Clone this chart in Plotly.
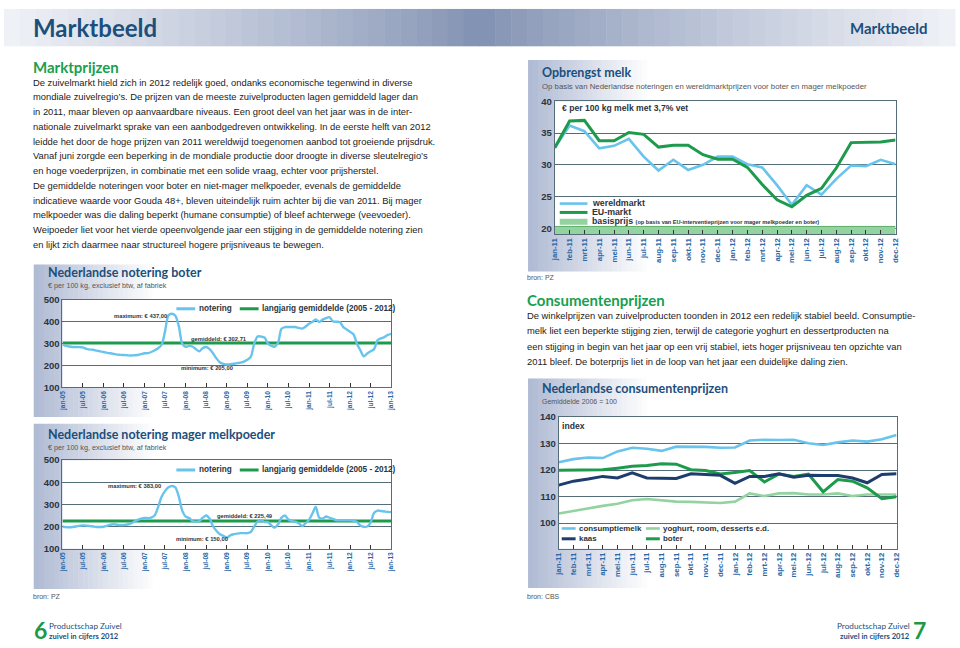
import plotly.graph_objects as go
import pandas as pd

W, H = 960, 648

# ------------------------------------------------------------------ data
maanden_1112 = ["jan-11", "feb-11", "mrt-11", "apr-11", "mei-11", "jun-11",
                "jul-11", "aug-11", "sep-11", "okt-11", "nov-11", "dec-11",
                "jan-12", "feb-12", "mrt-12", "apr-12", "mei-12", "jun-12",
                "jul-12", "aug-12", "sep-12", "okt-12", "nov-12", "dec-12"]

# Opbrengst melk (euro per 100 kg melk, 3,7% vet)
wereldmarkt = [32.7, 36.2, 35.3, 32.6, 33.0, 34.1, 31.3, 29.1, 30.8, 29.2, 30.0, 31.3,
               31.3, 30.1, 29.6, 26.8, 23.7, 26.8, 25.3, 27.8, 29.9, 29.8, 30.8, 30.1]
eu_markt = [32.7, 36.9, 37.0, 33.8, 33.8, 35.1, 34.8, 32.8, 33.1, 33.1, 31.6, 30.9,
            30.9, 29.6, 26.9, 24.5, 23.4, 25.2, 26.3, 29.5, 33.5, 33.5, 33.6, 33.9]
basisprijs = [20.3, 20.3, 20.3, 20.3, 20.3, 20.3, 20.3, 20.3, 20.3, 20.3, 20.3, 20.3,
              20.3, 20.3, 20.3, 20.3, 20.3, 20.3, 20.3, 20.3, 20.3, 20.3, 20.3, 20.3]

# Nederlandse notering boter / mager melkpoeder (euro per 100 kg), jan-05 .. jan-13
notering_maanden = pd.date_range("2005-01-01", "2013-01-01", freq="MS")
boter_notering = [296, 290, 287, 285, 285, 284, 283, 276, 273, 272, 268, 265,
                  262, 258, 256, 253, 250, 249, 248, 247, 246, 247, 248, 252,
                  256, 257, 262, 270, 279, 295, 355, 430, 437, 428, 380, 300,
                  286, 290, 287, 275, 265, 280, 285, 275, 255, 232, 214, 208,
                  205, 206, 208, 211, 213, 218, 226, 240, 300, 333, 332, 328,
                  300, 290, 286, 305, 368, 376, 376, 376, 376, 372, 369, 378,
                  391, 400, 411, 399, 410, 417, 421, 402, 400, 399, 376, 365,
                  354, 342, 300, 270, 242, 255, 265, 275, 316, 324, 330, 340,
                  345]
boter_gemiddeld = 302.71
melkpoeder_notering = [200, 197, 197, 198, 200, 203, 205, 204, 202, 200, 198, 198,
                       199, 203, 208, 210, 208, 207, 207, 209, 214, 222, 230, 236,
                       239, 238, 240, 251, 288, 335, 360, 377, 383, 377, 335, 272,
                       245, 238, 225, 222, 225, 240, 250, 235, 200, 180, 165, 158,
                       150, 160, 165, 168, 170, 170, 170, 175, 200, 222, 228, 220,
                       220, 205, 195, 210, 240, 250, 232, 225, 222, 215, 202, 215,
                       230, 260, 288, 240, 235, 245, 240, 235, 228, 228, 228, 228,
                       228, 226, 220, 205, 199, 200, 218, 262, 272, 270, 268, 266,
                       265]
melkpoeder_gemiddeld = 225.49
halfjaar_datums = ["2005-01-01", "2005-07-01", "2006-01-01", "2006-07-01", "2007-01-01",
                   "2007-07-01", "2008-01-01", "2008-07-01", "2009-01-01", "2009-07-01",
                   "2010-01-01", "2010-07-01", "2011-01-01", "2011-07-01", "2012-01-01",
                   "2012-07-01", "2013-01-01"]
halfjaar_labels = ["jan-05", "jul-05", "jan-06", "jul-06", "jan-07", "jul-07", "jan-08",
                   "jul-08", "jan-09", "jul-09", "jan-10", "jul-10", "jan-11", "jul-11",
                   "jan-12", "jul-12", "jan-13"]

# Nederlandse consumentenprijzen (gemiddelde 2006 = 100)
consumptiemelk = [122.9, 124.1, 124.7, 124.5, 127.0, 128.4, 128.0, 127.2, 128.8, 128.8, 128.7, 128.4,
                  128.5, 131.1, 131.4, 131.3, 131.4, 130.1, 129.4, 130.4, 131.1, 130.7, 131.6, 133.2]
yoghurt = [103.6, 104.6, 105.5, 106.5, 107.3, 108.6, 109.1, 108.7, 108.1, 108.0, 107.8, 107.6,
           108.1, 111.2, 110.2, 111.2, 111.3, 110.8, 110.8, 111.2, 110.2, 110.8, 110.8, 110.8]
kaas = [114.3, 115.8, 116.6, 117.6, 117.0, 118.9, 117.0, 117.0, 116.8, 118.6, 118.3, 118.0,
        115.0, 117.6, 117.6, 118.6, 117.3, 118.0, 117.9, 117.9, 117.0, 115.2, 118.3, 118.6]
boter_index = [119.9, 119.9, 120.1, 120.1, 120.7, 121.4, 121.7, 122.4, 122.2, 120.1, 119.8, 118.5,
               119.1, 119.8, 115.5, 118.5, 117.6, 118.5, 111.8, 116.4, 115.8, 113.3, 109.2, 109.9]

# ------------------------------------------------------------------ styling
BODY = "Liberation Sans"
HEAD = "Lato"
NAVY = "#1b4f7c"
GREEN_T = "#17a04f"
AXLINE = "#556d78"
TICKBLUE = "#2a68a8"
LABDARK = "#2b3440"
C_LBLUE = "#68c4ec"
C_GREEN = "#1e9a4c"
C_LGREEN = "#93d3a0"
C_NAVY = "#1d3d6e"


def px(x):
    return x / W


def py(y):
    return 1 - y / H


shapes = []
ann = []


def rect(x0, y0, x1, y1, color, layer="below"):
    shapes.append(dict(type="rect", xref="paper", yref="paper", x0=px(x0), x1=px(x1),
                       y0=py(y1), y1=py(y0), fillcolor=color, line=dict(width=0), layer=layer))


def seg(x0, x1, y, color, width):
    shapes.append(dict(type="line", xref="paper", yref="paper", x0=px(x0), x1=px(x1),
                       y0=py(y), y1=py(y), line=dict(color=color, width=width), layer="above"))


def txt(x, y, s, size, color="#222222", family=BODY, anchor="left", bold=False):
    ann.append(dict(x=px(x), y=py(y), xref="paper", yref="paper",
                    text=f"<b>{s}</b>" if bold else s, showarrow=False,
                    xanchor=anchor, yanchor="middle",
                    font=dict(size=size, color=color, family=family)))


def mix(c0, c1, t):
    return "rgb(%d,%d,%d)" % tuple(round(a + (b - a) * t) for a, b in zip(c0, c1))


# header band gradient (light at edges, dark blue-grey in centre)
edge = (240, 242, 247)
mid = (128, 144, 178)
n = 60
for i in range(n):
    x0 = i * W / n
    cx = x0 + W / n / 2
    t = abs(cx - W / 2) / (W / 2)
    rect(x0, 3, x0 + W / n + 0.5, 41, mix(mid, edge, t ** 0.85))


# panel gradients (blue-grey at left edge fading into white)
def panel(x0, y0, y1, width=125):
    c0, c1 = (176, 187, 212), (255, 255, 255)
    steps = 25
    for i in range(steps):
        t = i / (steps - 1)
        rect(x0 + i * width / steps, y0, x0 + (i + 1) * width / steps + 0.5, y1, mix(c0, c1, t))


panel(529, 55, 270)
panel(30, 263, 418)
panel(30, 425, 593)
panel(529, 379, 592)

# white plot areas
PLOTS = {
    "melk": (556, 97, 900, 232),
    "boter": (59, 299, 391, 388),
    "mmp": (59, 462, 391, 552),
    "cons": (560, 418, 901, 552),
}
for (a, b, c, d) in PLOTS.values():
    rect(a, b, c, d, "white")

fig = go.Figure()

# ---- Opbrengst melk
fig.add_trace(go.Scatter(x=maanden_1112, y=basisprijs, mode="lines", fill="tozeroy",
                         line=dict(color="#5fae6d", width=1), fillcolor=C_LGREEN,
                         xaxis="x", yaxis="y", name="basisprijs"))
fig.add_trace(go.Scatter(x=maanden_1112, y=wereldmarkt, mode="lines",
                         line=dict(color=C_LBLUE, width=2.6), xaxis="x", yaxis="y", name="wereldmarkt"))
fig.add_trace(go.Scatter(x=maanden_1112, y=eu_markt, mode="lines",
                         line=dict(color=C_GREEN, width=3), xaxis="x", yaxis="y", name="EU-markt"))

# ---- boter
fig.add_trace(go.Scatter(x=[notering_maanden[0], notering_maanden[-1]], y=[boter_gemiddeld, boter_gemiddeld],
                         mode="lines", line=dict(color=C_GREEN, width=3), xaxis="x2", yaxis="y2"))
fig.add_trace(go.Scatter(x=notering_maanden, y=boter_notering, mode="lines",
                         line=dict(color=C_LBLUE, width=2.4, shape="spline", smoothing=0.8),
                         xaxis="x2", yaxis="y2"))

# ---- mager melkpoeder
fig.add_trace(go.Scatter(x=[notering_maanden[0], notering_maanden[-1]],
                         y=[melkpoeder_gemiddeld, melkpoeder_gemiddeld],
                         mode="lines", line=dict(color=C_GREEN, width=3), xaxis="x3", yaxis="y3"))
fig.add_trace(go.Scatter(x=notering_maanden, y=melkpoeder_notering, mode="lines",
                         line=dict(color=C_LBLUE, width=2.4, shape="spline", smoothing=0.8),
                         xaxis="x3", yaxis="y3"))

# ---- consumentenprijzen
fig.add_trace(go.Scatter(x=maanden_1112, y=yoghurt, mode="lines",
                         line=dict(color=C_LGREEN, width=2.6), xaxis="x4", yaxis="y4"))
fig.add_trace(go.Scatter(x=maanden_1112, y=consumptiemelk, mode="lines",
                         line=dict(color=C_LBLUE, width=2.6), xaxis="x4", yaxis="y4"))
fig.add_trace(go.Scatter(x=maanden_1112, y=boter_index, mode="lines",
                         line=dict(color=C_GREEN, width=3), xaxis="x4", yaxis="y4"))
fig.add_trace(go.Scatter(x=maanden_1112, y=kaas, mode="lines",
                         line=dict(color=C_NAVY, width=3), xaxis="x4", yaxis="y4"))


def xdom(key):
    a, b, c, d = PLOTS[key]
    return [px(a), px(c)]


def ydom(key):
    a, b, c, d = PLOTS[key]
    return [py(d), py(b)]


def xax(key, anchor, size, **kw):
    d = dict(domain=xdom(key), anchor=anchor, showline=True, mirror=True, linecolor=AXLINE,
             linewidth=1, showgrid=False, zeroline=False, ticks="inside", ticklen=4,
             tickcolor="#333333", tickangle=-90,
             tickfont=dict(family=BODY, size=size, color=TICKBLUE, weight="bold"))
    d.update(kw)
    return d


def yax(key, anchor, rng, tickvals, size=9.5):
    return dict(domain=ydom(key), anchor=anchor, range=rng, tickvals=tickvals,
                showline=True, mirror=True, linecolor=AXLINE, linewidth=1,
                showgrid=True, gridcolor=AXLINE, gridwidth=1, zeroline=False, ticks="",
                tickfont=dict(family=BODY, size=size, color=LABDARK, weight="bold"))


layout_axes = dict(
    xaxis=xax("melk", "y", 7.8, type="category", range=[0, 23]),
    yaxis=yax("melk", "x", [19.1, 40], [20, 25, 30, 35, 40]),
    xaxis2=xax("boter", "y2", 6.6, type="date", range=["2005-01-01", "2013-01-01"],
               tickvals=halfjaar_datums, ticktext=halfjaar_labels),
    yaxis2=yax("boter", "x2", [100, 500], [100, 200, 300, 400, 500]),
    xaxis3=xax("mmp", "y3", 6.6, type="date", range=["2005-01-01", "2013-01-01"],
               tickvals=halfjaar_datums, ticktext=halfjaar_labels),
    yaxis3=yax("mmp", "x3", [100, 500], [100, 200, 300, 400, 500]),
    xaxis4=xax("cons", "y4", 7.8, type="category", range=[0, 23]),
    yaxis4=yax("cons", "x4", [90.4, 140], [100, 110, 120, 130, 140]),
)

# ------------------------------------------------------------------ texts
txt(27, 22, "Marktbeeld", 24, NAVY, HEAD, bold=True)
txt(935, 22, "Marktbeeld", 15, NAVY, HEAD, anchor="right", bold=True)

txt(27, 62, "Marktprijzen", 15, GREEN_T, HEAD, bold=True)
left_lines = [
    "De zuivelmarkt hield zich in 2012 redelijk goed, ondanks economische tegenwind in diverse",
    "mondiale zuivelregio’s. De prijzen van de meeste zuivelproducten lagen gemiddeld lager dan",
    "in 2011, maar bleven op aanvaardbare niveaus. Een groot deel van het jaar was in de inter-",
    "nationale zuivelmarkt sprake van een aanbodgedreven ontwikkeling. In de eerste helft van 2012",
    "leidde het door de hoge prijzen van 2011 wereldwijd toegenomen aanbod tot groeiende prijsdruk.",
    "Vanaf juni zorgde een beperking in de mondiale productie door droogte in diverse sleutelregio’s",
    "en hoge voederprijzen, in combinatie met een solide vraag, echter voor prijsherstel.",
    "De gemiddelde noteringen voor boter en niet-mager melkpoeder, evenals de gemiddelde",
    "indicatieve waarde voor Gouda 48+, bleven uiteindelijk ruim achter bij die van 2011. Bij mager",
    "melkpoeder was die daling beperkt (humane consumptie) of bleef achterwege (veevoeder).",
    "Weipoeder liet voor het vierde opeenvolgende jaar een stijging in de gemiddelde notering zien",
    "en lijkt zich daarmee naar structureel hogere prijsniveaus te bewegen.",
]
for i, s in enumerate(left_lines):
    txt(27, 77.5 + i * 15.0, s, 9.4, "#222222")

txt(526, 299, "Consumentenprijzen", 15, GREEN_T, HEAD, bold=True)
right_lines = [
    "De winkelprijzen van zuivelproducten toonden in 2012 een redelijk stabiel beeld. Consumptie-",
    "melk liet een beperkte stijging zien, terwijl de categorie yoghurt en dessertproducten na",
    "een stijging in begin van het jaar op een vrij stabiel, iets hoger prijsniveau ten opzichte van",
    "2011 bleef. De boterprijs liet in de loop van het jaar een duidelijke daling zien.",
]
for i, s in enumerate(right_lines):
    txt(526, 315 + i * 15.5, s, 9.4, "#222222")

# chart titles
txt(541, 68, "Opbrengst melk", 12.5, NAVY, HEAD, bold=True)
txt(541, 81.5, "Op basis van Nederlandse noteringen en wereldmarktprijzen voor boter en mager melkpoeder",
    7.8, "#555555")
txt(42, 271.5, "Nederlandse notering boter", 12.5, NAVY, HEAD, bold=True)
txt(42, 284.5, "€ per 100 kg, exclusief btw, af fabriek", 7.2, "#555555")
txt(42, 436, "Nederlandse notering mager melkpoeder", 12.5, NAVY, HEAD, bold=True)
txt(42, 449, "€ per 100 kg, exclusief btw, af fabriek", 7.2, "#555555")
txt(541, 389, "Nederlandse consumentenprijzen", 12.5, NAVY, HEAD, bold=True)
txt(541, 402.5, "Gemiddelde 2006 = 100", 7.0, "#555555")

# opbrengst melk inner texts & legend
txt(561, 103.5, "€ per 100 kg melk met 3,7% vet", 8.6, LABDARK, bold=True)
seg(561, 589, 201, C_LBLUE, 2.6)
seg(561, 589, 210, C_GREEN, 3)
seg(561, 589, 219.5, C_LGREEN, 6)
txt(592, 200.5, "wereldmarkt", 8.8, LABDARK, bold=True)
txt(592, 209.5, "EU-markt", 8.8, LABDARK, bold=True)
txt(592, 219, "<b>basisprijs</b> <span style='font-size:5.6px'><b>(op basis van EU-interventieprijzen voor mager melkpoeder en boter)</b></span>",
    8.8, LABDARK)

# boter / melkpoeder legend & labels
for yy in (308, 472):
    seg(174, 193, yy, C_LBLUE, 3)
    txt(195, yy, "notering", 8.2, LABDARK, bold=True)
    seg(238, 257, yy, C_GREEN, 3)
    txt(258, yy, "langjarig gemiddelde (2005 - 2012)", 8.2, LABDARK, bold=True)

txt(167, 315.5, "maximum: € 437,00", 5.8, "#333333", anchor="right", bold=True)
txt(187, 338.5, "gemiddeld: € 302,71", 5.8, "#333333", bold=True)
txt(177, 368, "minimum: € 205,00", 5.8, "#333333", bold=True)
txt(160, 488.5, "maximum: € 383,00", 5.8, "#333333", anchor="right", bold=True)
txt(213, 518.5, "gemiddeld: € 225,49", 5.8, "#333333", bold=True)
txt(172, 542, "minimum: € 150,00", 5.8, "#333333", bold=True)

# consumentenprijzen legend
txt(561, 427, "index", 8.6, LABDARK, bold=True)
seg(563, 577, 531.5, C_LBLUE, 2.6)
txt(578, 531.5, "consumptiemelk", 7.9, LABDARK, bold=True)
seg(563, 577, 542, C_NAVY, 3)
txt(578, 542, "kaas", 7.9, LABDARK, bold=True)
seg(648, 662, 531.5, C_LGREEN, 2.6)
txt(663, 531.5, "yoghurt, room, desserts e.d.", 7.9, LABDARK, bold=True)
seg(648, 662, 542, C_GREEN, 3)
txt(663, 542, "boter", 7.9, LABDARK, bold=True)

# sources
txt(526, 276, "bron: PZ", 7, "#555555")
txt(27, 601, "bron: PZ", 7, "#555555")
txt(526, 601, "bron: CBS", 7, "#555555")

# footer
txt(28, 635, "6", 23, "#1a9a48", HEAD, bold=True)
txt(43, 630.5, "Productschap Zuivel", 8.2, NAVY, HEAD)
txt(43, 640.5, "zuivel in cijfers 2012", 7.6, NAVY, HEAD, bold=True)
txt(933, 635, "7", 23, "#1a9a48", HEAD, anchor="right", bold=True)
txt(917, 630.5, "Productschap Zuivel", 8.2, NAVY, HEAD, anchor="right")
txt(917, 640.5, "zuivel in cijfers 2012", 7.6, NAVY, HEAD, anchor="right", bold=True)

fig.update_layout(
    width=W, height=H, autosize=False,
    margin=dict(l=0, r=0, t=0, b=0, pad=0),
    paper_bgcolor="white", plot_bgcolor="white",
    showlegend=False, shapes=shapes, annotations=ann,
    hovermode=False, dragmode=False,
    **layout_axes,
)

fig.write_html(
    "out.html",
    config={"displayModeBar": False, "staticPlot": True},
    post_script="document.body.style.margin='0';document.documentElement.style.overflow='hidden';",
)
